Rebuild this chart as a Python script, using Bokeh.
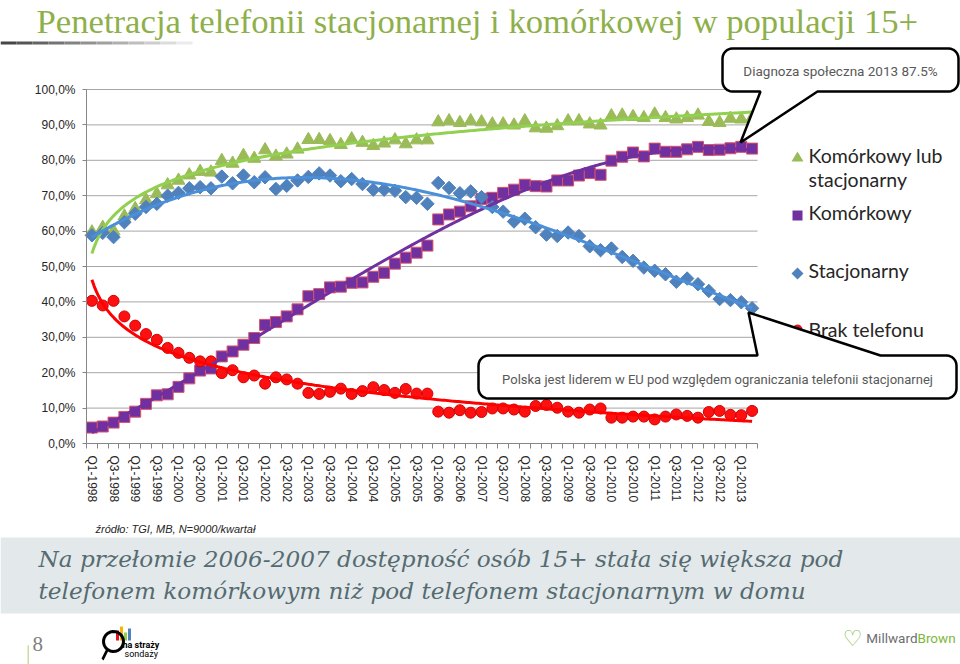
import numpy as np
from bokeh.plotting import figure
from bokeh.models import Range1d, FixedTicker, Label, PolyAnnotation, ColumnDataSource
from bokeh.embed import file_html
from bokeh.resources import INLINE

# ---------------- data ----------------
quarters = [f"Q{q}-{y}" for y in range(1998, 2014) for q in (1, 2, 3, 4)][:62]
y_ticks = [0, 10, 20, 30, 40, 50, 60, 70, 80, 90, 100]
y_tick_labels = ["0,0%", "10,0%", "20,0%", "30,0%", "40,0%", "50,0%",
                 "60,0%", "70,0%", "80,0%", "90,0%", "100,0%"]

kom_lub_stac = [59.7, 61.0, 60.0, 64.2, 66.3, 68.8, 70.5, 73.0, 74.3, 75.8,
                76.8, 76.6, 79.9, 79.1, 81.3, 80.5, 82.9, 81.1, 81.7, 83.1,
                85.8, 85.8, 85.5, 84.4, 86.0, 85.0, 84.1, 84.8, 85.7, 84.6,
                85.7, 85.7, 90.8, 91.1, 90.6, 91.1, 90.8, 90.2, 90.2, 89.9,
                91.1, 89.1, 89.0, 89.7, 91.1, 91.1, 90.2, 89.9, 92.5, 92.7,
                92.3, 92.0, 93.0, 92.0, 91.6, 92.0, 92.7, 90.9, 90.6, 91.8,
                91.6, 92.0]
komorkowy = [4.5, 4.8, 5.9, 7.5, 9.0, 11.2, 13.6, 13.9, 16.0, 18.4,
             20.6, 21.2, 24.6, 26.0, 27.9, 29.8, 33.5, 34.3, 35.9, 37.9,
             41.6, 42.2, 44.1, 44.3, 45.4, 45.5, 47.1, 48.2, 50.8, 52.5,
             53.9, 55.9, 63.3, 64.7, 65.5, 67.0, 69.1, 69.4, 70.8, 71.7,
             73.1, 72.7, 72.6, 74.3, 74.3, 75.7, 76.4, 75.9, 79.9, 81.0,
             82.2, 81.1, 83.3, 82.4, 82.4, 83.1, 83.8, 82.9, 83.0, 83.4,
             83.8, 83.3]
stacjonarny = [58.8, 59.5, 58.3, 62.5, 64.9, 66.8, 67.7, 70.0, 70.8, 72.1,
               72.4, 72.1, 75.4, 73.5, 75.7, 73.8, 75.2, 71.9, 72.8, 74.3,
               75.3, 76.3, 75.7, 74.1, 74.7, 73.3, 71.7, 71.7, 71.4, 69.6,
               69.4, 67.7, 73.6, 72.2, 70.7, 71.2, 69.6, 66.8, 65.5, 62.7,
               63.5, 61.1, 59.0, 58.6, 59.6, 58.6, 55.7, 54.6, 55.1, 52.7,
               51.6, 49.7, 48.8, 47.8, 45.7, 46.6, 45.0, 43.1, 40.8, 40.5,
               39.9, 38.2]
brak_telefonu = [40.3, 39.0, 40.3, 35.9, 33.3, 30.9, 29.3, 27.0, 25.6, 24.2,
                 23.2, 23.2, 19.9, 20.7, 18.7, 19.2, 16.9, 18.7, 18.1, 16.9,
                 14.3, 14.0, 14.6, 15.5, 14.0, 14.8, 15.9, 15.1, 14.3, 15.4,
                 14.1, 14.1, 9.0, 8.7, 9.4, 8.7, 8.9, 9.9, 9.9, 9.6,
                 9.0, 10.6, 10.9, 10.1, 9.0, 8.7, 9.6, 9.9, 7.3, 7.3,
                 7.6, 7.6, 6.8, 7.6, 8.2, 7.8, 7.3, 8.9, 9.2, 8.1,
                 8.0, 9.2]

legend_labels = ["Komórkowy lub", "stacjonarny", "Komórkowy", "Stacjonarny", "Brak telefonu"]
title_text = "Penetracja telefonii stacjonarnej i komórkowej w populacji 15+"
callout_top = "Diagnoza społeczna 2013 87.5%"
callout_bottom = "Polska jest liderem w EU pod względem ograniczania telefonii stacjonarnej"
source_text = "źródło: TGI, MB, N=9000/kwartał"
band_lines = ["Na przełomie 2006-2007 dostępność osób 15+ stała się większa pod",
              "telefonem komórkowym niż pod telefonem stacjonarnym w domu"]

# ---------------- layout constants (page pixels) ----------------
W, H = 960, 664
CL, CR, CT, CB = 86, 757, 89, 443      # chart plotting area on the page

n = len(quarters)
idx = np.arange(n)
ux = (CR - CL) / n                      # px per quarter
uy = (CB - CT) / 100.0                  # px per percent
x_start = -0.5 - CL / ux
y_start = -(H - CB) / uy

# the frame covers the whole page; the axes are pinned at the chart's edges
p = figure(width=W, height=H, output_backend="svg", toolbar_location=None,
           x_range=Range1d(x_start, x_start + W / ux),
           y_range=Range1d(y_start, y_start + H / uy),
           min_border=0, min_border_left=0, min_border_right=0,
           min_border_top=0, min_border_bottom=0)
p.outline_line_color = None
p.background_fill_color = "white"
p.border_fill_color = "white"
p.xgrid.visible = False
p.ygrid.visible = False

# x axis
p.xaxis.fixed_location = 0
p.xaxis.bounds = (-0.5, n - 0.5)
p.xaxis.ticker = FixedTicker(ticks=list(idx[::2]), minor_ticks=[i - 0.5 for i in range(n + 1)])
p.xaxis.major_label_overrides = {int(i): quarters[i] for i in idx[::2]}
p.xaxis.major_label_orientation = "vertical"
p.xaxis.major_tick_in = 0
p.xaxis.major_tick_out = 0
p.xaxis.minor_tick_in = 0
p.xaxis.minor_tick_out = 5
p.xaxis.axis_line_color = "#868686"
p.xaxis.minor_tick_line_color = "#868686"
p.xaxis.major_label_standoff = 7
p.xaxis.major_label_text_font = "Liberation Sans"
p.xaxis.major_label_text_font_size = "12px"
p.xaxis.major_label_text_color = "#262626"

# y axis
p.yaxis.fixed_location = -0.5
p.yaxis.bounds = (0, 100)
p.yaxis.ticker = FixedTicker(ticks=y_ticks)
p.yaxis.major_label_overrides = {t: l for t, l in zip(y_ticks, y_tick_labels)}
p.yaxis.major_tick_in = 0
p.yaxis.major_tick_out = 4
p.yaxis.minor_tick_line_color = None
p.yaxis.axis_line_color = "#868686"
p.yaxis.major_tick_line_color = "#868686"
p.yaxis.major_label_standoff = 7
p.yaxis.major_label_text_font = "Liberation Sans"
p.yaxis.major_label_text_font_size = "12px"
p.yaxis.major_label_text_color = "#262626"

# horizontal gridlines at the y ticks, across the chart only
gy = [t for t in y_ticks if t > 0]
p.segment(x0=[-0.5] * len(gy), x1=[n - 0.5] * len(gy), y0=gy, y1=gy,
          line_color="#A6A6A6", line_width=1)

# ---------------- markers ----------------
src = ColumnDataSource(dict(x=idx, g=kom_lub_stac, k=komorkowy, s=stacjonarny, b=brak_telefonu))
p.scatter("x", "g", source=src, marker="triangle", size=13, fill_color="#9BBB59", line_color="#9BBB59")
p.scatter("x", "k", source=src, marker="square", size=11, fill_color="#7030A0", line_color="#D9536A", line_width=1)
p.scatter("x", "s", source=src, marker="square", angle=np.pi / 4, size=9.5, fill_color="#4F81BD", line_color="#4F81BD")
p.scatter("x", "b", source=src, marker="circle", size=11, fill_color="#FF1010", line_color="#D00000")

# ---------------- trend lines (least-squares fits of the data) ----------------
xf = np.linspace(0, n - 1, 300)


def log_fit(v):
    b, a = np.polyfit(np.log(idx + 1), v, 1)
    return a + b * np.log(xf + 1)


def poly_fit(v, d):
    return np.polyval(np.polyfit(idx, v, d), xf)


p.line(xf, log_fit(kom_lub_stac), line_color="#92D050", line_width=3)
p.line(xf, poly_fit(komorkowy, 3), line_color="#7030A0", line_width=3)
p.line(xf, poly_fit(stacjonarny, 3), line_color="#4A8FD8", line_width=3)
p.line(xf, log_fit(brak_telefonu), line_color="#FF0000", line_width=3)


# ---------------- page decorations (page pixel coords, y down) ----------------
def poly(pts, fill=None, line=None, lw=1.0):
    xs = [float(x) for x, y in pts]
    ys = [float(H - y) for x, y in pts]
    p.add_layout(PolyAnnotation(xs=xs, ys=ys, xs_units="screen", ys_units="screen",
                                fill_color=fill, fill_alpha=(1.0 if fill else 0.0),
                                line_color=line, line_width=lw, line_alpha=(1.0 if line else 0.0)))


def text(t, px, py, size, color, font="Liberation Sans", style="normal", align="left"):
    # py is the wanted baseline; the label box puts the baseline about 0.34 em higher than asked
    p.add_layout(Label(x=px, y=H - py + 0.34 * size, x_units="screen", y_units="screen", text=t,
                       text_font=font, text_font_size=f"{size}px", text_font_style=style,
                       text_color=color, text_align=align, text_baseline="alphabetic"))


def arc(cx, cy, r, a0, a1, k=7):
    return [(cx + r * np.cos(np.radians(a)), cy + r * np.sin(np.radians(a))) for a in np.linspace(a0, a1, k)]


# title
text(title_text, 36, 33, 34.7, "#8EB04A", font="Liberation Serif")
# gradient rule under title
for k in range(12):
    x0 = k * 16
    c = int(70 + k * 15)
    poly([(x0, 41), (x0 + 16, 41), (x0 + 16, 44), (x0, 44)], fill=f"#{c:02x}{c:02x}{c:02x}")

# legend
poly([(797, 151), (803, 161), (791, 161)], fill="#9BBB59")
poly([(792, 210), (802, 210), (802, 220), (792, 220)], fill="#7030A0")
poly([(797, 267), (803, 273), (797, 279), (791, 273)], fill="#4F81BD")
poly(arc(797, 329, 5, 0, 360, 16), fill="#E8101E")
for lbl, by in zip(legend_labels, [162, 186, 219, 277, 336]):
    text(lbl, 808, by, 19.5, "#262626", font="Lato")

# top callout
x0, y0, x1, y1, r = 722, 48, 958, 91, 10
pts = arc(x0 + r, y0 + r, r, 180, 270) + arc(x1 - r, y0 + r, r, 270, 360) + \
      arc(x1 - r, y1 - r, r, 0, 90) + [(817, y1), (740, 142), (760, y1)] + arc(x0 + r, y1 - r, r, 90, 180)
poly(pts, fill="white", line="black", lw=2.5)
text(callout_top, 840, 75, 13.5, "#595959", font="Roboto", align="center")

# bottom callout
x0, y0, x1, y1, r = 478, 355, 956, 398, 10
pts = arc(x0 + r, y0 + r, r, 180, 270) + [(757, y0), (748, 312), (880, y0)] + \
      arc(x1 - r, y0 + r, r, 270, 360) + arc(x1 - r, y1 - r, r, 0, 90) + arc(x0 + r, y1 - r, r, 90, 180)
poly(pts, fill="white", line="black", lw=2.5)
text(callout_bottom, 717, 383, 13, "#595959", font="Roboto", align="center")

# source
text(source_text, 95, 532, 11, "#262626", style="italic")

# bottom band
poly([(0, 537), (W, 537), (W, 613), (0, 613)], fill="#E3E9EA")
text(band_lines[0], 38, 566, 23.2, "#566B71", font="DejaVu Serif", style="italic")
text(band_lines[1], 38, 598, 23.2, "#566B71", font="DejaVu Serif", style="italic")

# footer
text("8", 32, 651, 21, "#808080", font="Liberation Serif")
poly([(27, 645), (28.5, 645), (28.5, 664), (27, 664)], fill="#C9DDA0")
# "na straży sondaży" logo
for cx, cc, hgt in [(117, "#E8101E", 10), (121, "#F5B800", 14), (125, "#92D050", 8), (129, "#4F81BD", 12)]:
    poly([(cx - 1.5, 640 - hgt), (cx + 1.5, 640 - hgt), (cx + 1.5, 640), (cx - 1.5, 640)], fill=cc)
poly(arc(113, 641, 10, 0, 360, 24), line="black", lw=3)
poly([(106, 648), (108, 650), (103, 660), (101, 658)], fill="black")
text("na straży", 122, 648, 9, "black", font="Roboto", style="bold")
text("sondaży", 124, 657, 9, "black", font="Roboto")
# MillwardBrown logo
text("♡", 852, 645, 22, "#7DB83A", font="DejaVu Sans", align="center")
text("Millward", 917, 642, 13.5, "#6D6E71", font="Roboto", align="right")
text("Brown", 917, 642, 13.5, "#7DB83A", font="Roboto")

open("out.html", "w").write(file_html(p, INLINE))
